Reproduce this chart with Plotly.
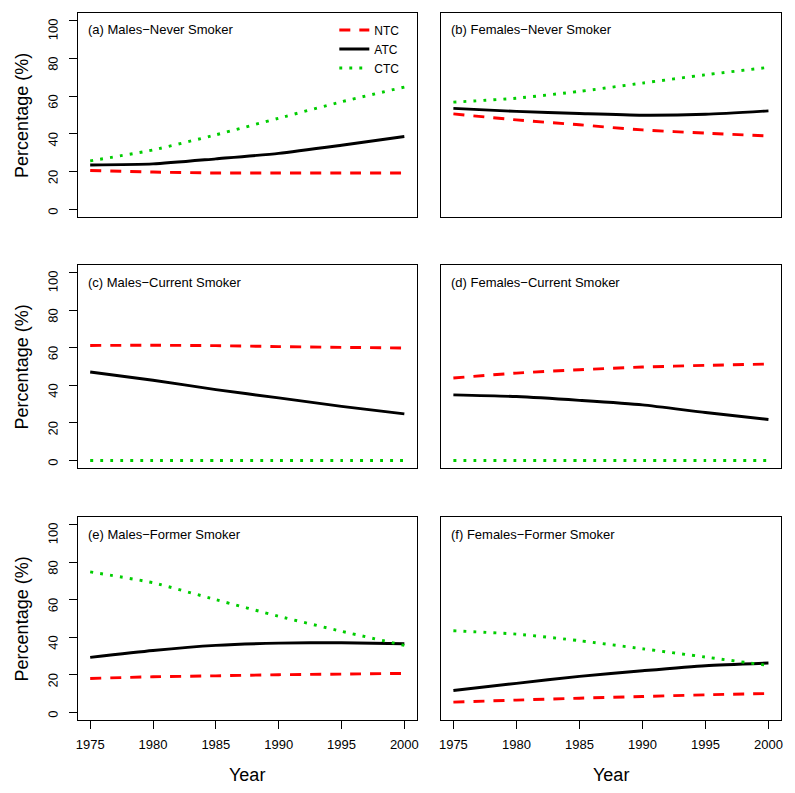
import plotly.graph_objects as go

years = [1975, 1980, 1985, 1990, 1995, 2000]

panel_titles = [
    "(a) Males\u2212Never Smoker",
    "(b) Females\u2212Never Smoker",
    "(c) Males\u2212Current Smoker",
    "(d) Females\u2212Current Smoker",
    "(e) Males\u2212Former Smoker",
    "(f) Females\u2212Former Smoker",
]

# NTC, ATC, CTC per panel (percent)
ntc_a = [20.6, 19.8, 19.3, 19.3, 19.3, 19.3]
atc_a = [23.5, 24.1, 26.8, 29.7, 34.0, 38.6]
ctc_a = [25.7, 31.5, 39.5, 48.3, 57.0, 64.8]

ntc_b = [50.6, 47.4, 44.8, 42.1, 40.4, 38.9]
atc_b = [53.5, 51.9, 50.8, 49.9, 50.4, 52.2]
ctc_b = [56.8, 58.9, 62.5, 66.9, 71.3, 75.2]

ntc_c = [61.2, 61.3, 61.1, 60.6, 60.2, 59.8]
atc_c = [47.1, 42.7, 37.7, 33.3, 28.8, 24.8]
ctc_c = [0, 0, 0, 0, 0, 0]

ntc_d = [43.9, 46.5, 48.3, 49.7, 50.6, 51.3]
atc_d = [34.9, 34.0, 32.0, 29.6, 25.5, 21.8]
ctc_d = [0, 0, 0, 0, 0, 0]

ntc_e = [18.1, 19.0, 19.5, 20.1, 20.4, 20.8]
atc_e = [29.3, 33.0, 35.7, 36.9, 37.1, 36.6]
ctc_e = [74.8, 69.0, 60.0, 51.2, 43.2, 35.7]

ntc_f = [5.5, 6.6, 7.6, 8.5, 9.4, 10.1]
atc_f = [11.7, 15.5, 19.2, 22.2, 24.9, 26.3]
ctc_f = [43.5, 41.7, 38.2, 33.9, 29.5, 25.0]

panels = [
    (ntc_a, atc_a, ctc_a),
    (ntc_b, atc_b, ctc_b),
    (ntc_c, atc_c, ctc_c),
    (ntc_d, atc_d, ctc_d),
    (ntc_e, atc_e, ctc_e),
    (ntc_f, atc_f, ctc_f),
]

x_ticks = [1975, 1980, 1985, 1990, 1995, 2000]
y_ticks = [0, 20, 40, 60, 80, 100]

W, H = 795, 793
col_px = [(76, 417), (441, 783)]
row_px = [(13, 217), (265, 468), (517, 720)]

FONT = "Liberation Sans, Arial, Helvetica, sans-serif"
RED = "#FF0000"
GREEN = "#00CD00"
LW = 2.9

fig = go.Figure()
annotations = []

for i, (ntc, atc, ctc) in enumerate(panels):
    r, c = divmod(i, 2)
    n = i + 1
    xa = "x" if n == 1 else f"x{n}"
    ya = "y" if n == 1 else f"y{n}"
    show_leg = (i == 0)
    fig.add_trace(go.Scatter(x=years, y=ntc, mode="lines", name="NTC", xaxis=xa, yaxis=ya,
                             line=dict(color=RED, width=LW, dash="11px,9px", shape="spline", smoothing=0.6),
                             showlegend=show_leg))
    fig.add_trace(go.Scatter(x=years, y=atc, mode="lines", name="ATC", xaxis=xa, yaxis=ya,
                             line=dict(color="black", width=LW, shape="spline", smoothing=0.6),
                             showlegend=show_leg))
    fig.add_trace(go.Scatter(x=years, y=ctc, mode="lines", name="CTC", xaxis=xa, yaxis=ya,
                             line=dict(color=GREEN, width=LW, dash="2.9px,7.1px", shape="spline", smoothing=0.6),
                             showlegend=show_leg))

    x0, x1 = col_px[c]
    y0, y1 = row_px[r]
    left = (c == 0)
    bottom = (r == 2)
    xkey = "xaxis" if n == 1 else f"xaxis{n}"
    ykey = "yaxis" if n == 1 else f"yaxis{n}"
    fig.update_layout({
        xkey: dict(
            domain=[x0 / W, x1 / W], anchor=ya, range=[1974, 2001],
            showline=True, mirror=True, linecolor="black", linewidth=1,
            showgrid=False, zeroline=False,
            tickvals=x_ticks if bottom else [], ticks="outside" if bottom else "",
            ticklen=8, tickwidth=1, tickcolor="black",
            showticklabels=bottom,
            tickfont=dict(family=FONT, size=13, color="black"),
            ticklabelstandoff=4,
        ),
        ykey: dict(
            domain=[1 - y1 / H, 1 - y0 / H], anchor=xa, range=[-4, 104],
            showline=True, mirror=True, linecolor="black", linewidth=1,
            showgrid=False, zeroline=False,
            tickvals=y_ticks if left else [], ticks="outside" if left else "",
            ticklen=8, tickwidth=1, tickcolor="black",
            showticklabels=left, tickangle=-89.9,
            tickfont=dict(family=FONT, size=13, color="black"),
            ticklabelstandoff=15,
        ),
    })

    annotations.append(dict(
        text=panel_titles[i], xref="paper", yref="paper",
        x=(x0 + 8) / W, y=1 - (y0 + 17) / H, xanchor="left", yanchor="middle",
        showarrow=False, font=dict(family=FONT, size=13, color="black"),
    ))
    if left:
        annotations.append(dict(
            text="Percentage (%)", xref="paper", yref="paper",
            x=20 / W, y=1 - ((y0 + y1) / 2) / H, xanchor="center", yanchor="middle",
            textangle=-90, showarrow=False, font=dict(family=FONT, size=18, color="black"),
        ))
    if bottom:
        annotations.append(dict(
            text="Year", xref="paper", yref="paper",
            x=((x0 + x1) / 2) / W, y=1 - 775 / H, xanchor="center", yanchor="middle",
            showarrow=False, font=dict(family=FONT, size=18, color="black"),
        ))

fig.update_layout(
    width=W, height=H,
    margin=dict(l=0, r=0, t=0, b=0),
    paper_bgcolor="white", plot_bgcolor="white",
    annotations=annotations,
    showlegend=True,
    legend=dict(
        x=334 / W, y=1 - 49 / H, xanchor="left", yanchor="middle",
        bgcolor="rgba(0,0,0,0)", borderwidth=0,
        font=dict(family=FONT, size=12, color="black"),
        itemwidth=30, tracegroupgap=0,
    ),
)

fig.write_html("out.html", config={"displayModeBar": False},
               post_script="document.body.style.margin='0px';")
